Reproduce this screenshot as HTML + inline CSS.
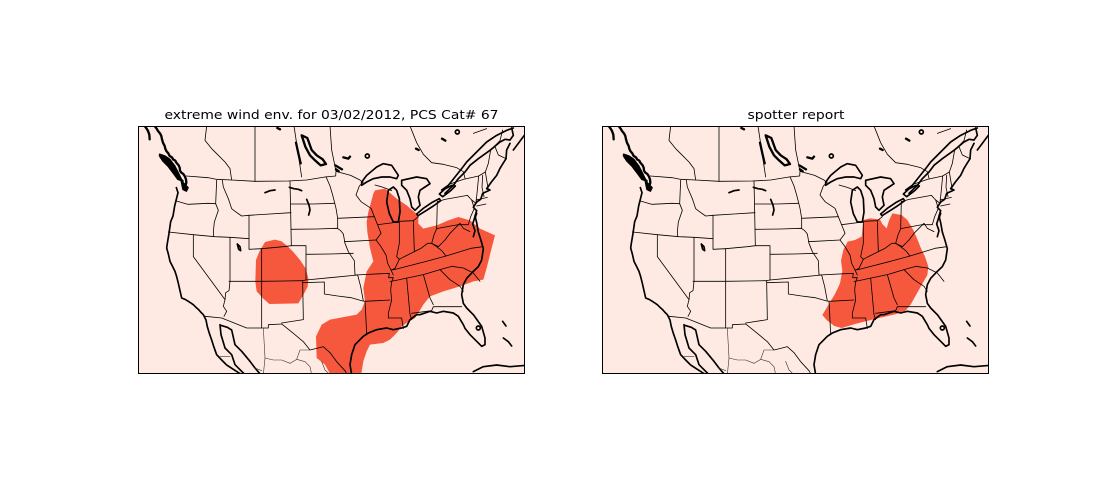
<!DOCTYPE html>
<html><head><meta charset="utf-8"><style>
html,body{margin:0;padding:0;background:#fff;}
svg{display:block;}
</style></head><body>
<svg width="1100" height="500" viewBox="0 0 1100 500" xmlns="http://www.w3.org/2000/svg">
<rect width="1100" height="500" fill="#fff"/>
<defs>
<clipPath id="c1"><rect x="138" y="126" width="387" height="248"/></clipPath>
<clipPath id="c2"><rect x="602" y="126" width="387" height="248"/></clipPath>
<g id="map" transform="translate(130,100) scale(0.333333)" fill="none" stroke="#000" stroke-linejoin="round" stroke-linecap="round">
 <g stroke-width="5">
  <path stroke-width="7" d="M44,78 L50,86 L54,93 L58,104 L59,118"/>
  <path stroke-width="7" d="M74,78 L80,86 L84,93 L90,100 L94,108 L96,118 L99,128 L104,138 L106,146 L109,153 L115,160 L119,168 L126,172 L129,178 L136,182 L139,188 L146,196 L149,203 L150,212 L154,218 L160,222 L164,228 L168,238 L169,248 L166,258 L164,268"/>
  <path fill="#000" d="M89,163 L104,168 L119,178 L134,198 L144,218 L154,238 L159,243 L144,238 L129,218 L114,198 L99,183 L89,168 Z"/>
  <path fill="#000" d="M154,243 L164,253 L174,263 L169,273 L159,268 Z"/>
  <path d="M139,263 L144,278 L139,298 L134,318 L129,348 L122,365 L117,400 L112,430 L110,444 L115,462 L120,484 L128,500 L135,514 L140,530 L145,550 L150,572 L155,594 L165,598 L175,604 L190,614 L198,622 L205,628 L212,636 L220,644 L228,660 L232,680 L238,700 L245,720 L252,742 L260,764 L275,780 L290,795 L310,808 L335,824"/>
  <path d="M270,674 L273,704 L285,744 L305,764 L315,794 L345,824"/>
  <path d="M272,676 L292,682 L305,690 L315,734 L335,754 L360,784 L375,804 L392,824"/>
  <path d="M1128,176 L1110,205 L1100,226 L1085,245 L1070,266 L1080,270 L1058,280 L1052,298 L1040,306 L1030,322 L1040,332 L1035,348 L1040,368 L1045,396 L1052,418 L1060,446 L1055,480 L1045,500 L1030,514 L1010,535 L1000,554 L995,584 L1000,610 L1010,624 L1030,644 L1045,665 L1055,679 L1065,714 L1065,734 L1055,739 L1040,724 L1020,704 L1005,685 L1000,674 L985,649 L970,639 L940,634 L920,639 L900,634 L870,644 L860,644 L840,659 L830,679 L815,684 L790,689 L770,684 L740,689 L715,699 L700,709 L675,734 L665,764 L660,794 L665,824"/>
  <path d="M1035,350 L1028,372 L1035,392 L1030,410 M1040,340 L1035,355"/>
  <path d="M935,270 L955,256 L975,231 L995,206 L1010,186 L1040,156 L1070,126 L1100,106 L1130,91 L1150,84"/>
  <path d="M945,280 L970,256 L985,236 L1005,216 L1020,196 L1045,176 L1080,151 L1110,126 L1125,118 L1140,120 L1150,106 L1145,84"/>
  <path d="M1140,130 L1130,150 L1128,176 M1150,150 L1165,130 L1180,110 L1188,100"/>
  <path d="M695,246 L710,226 L740,201 L760,191 L785,196 L795,211 L805,226 L800,236 L780,231 L755,231 L730,236 L710,246 L695,256 Z"/>
  <path d="M775,271 L770,306 L778,341 L790,366 L805,366 L810,336 L808,296 L800,271 L790,261 Z"/>
  <path d="M815,241 L860,231 L890,236 L900,251 L885,261 L870,271 L865,291 L870,316 L855,331 L845,321 L840,296 L830,271 L815,256 Z"/>
  <path d="M860,342 L880,325 L905,308 L928,296 L932,302 L910,318 L885,334 L864,347 Z"/>
  <path d="M928,282 L946,266 L966,256 L976,258 L962,272 L938,290 Z"/>
  <path stroke-width="7" d="M515,106 L532,114 L545,150 L560,166 L578,178 L588,192 L572,196 L556,182 L540,166 L526,140 Z"/>
  <path stroke-width="7" d="M498,128 L505,160 L512,190 M640,172 L655,176 L660,170 M936,116 L946,122 M858,146 L866,150 M618,208 L626,214 M442,84 L450,88 M616,196 L636,208"/>
  <circle cx="712" cy="168" r="6"/><circle cx="982" cy="96" r="6"/><circle cx="1045" cy="684" r="6"/>
  <path d="M405,278 L420,272 L435,270 M478,262 L492,266 L505,268 L515,272 M530,298 L537,315 L540,330 L536,345 M322,432 L330,440 L332,452 L326,448 Z"/>
  <path d="M1030,815 L1060,800 L1100,795 L1140,800 L1188,796 M1118,664 L1128,678 M1120,714 L1135,725 L1145,738"/>
 </g>
 <g stroke-width="2.4">
  <path d="M169,228 L234,233 L260,238 L305,240 L375,244 L475,243 L530,240 L585,231 L617,228 L618,214 L640,220 L662,226 L690,240 L697,246"/>
  <path d="M139,303 L174,313 L234,310 L257,311"/>
  <path d="M260,241 L257,311 L265,331 L253,366 L250,396 L251,410"/>
  <path d="M277,241 L280,261 L295,296 L305,326 L315,334 L335,348 L357,346"/>
  <path d="M357,346 L420,342 L483,338"/>
  <path d="M480,243 L482,338 L483,388 L484,437"/>
  <path d="M357,346 L357,448 L395,446 L395,684"/>
  <path d="M115,396 L190,404 L255,410 L300,412 L357,416"/>
  <path d="M190,404 L190,470 L285,599 L280,619 L290,634 L282,649"/>
  <path d="M300,412 L300,544 L297,572 L287,578 L285,599"/>
  <path d="M297,544 L395,544 L460,543 L518,542"/>
  <path d="M225,649 L275,654 L350,684 L395,684 L415,684 L415,674 L455,672"/>
  <path d="M455,672 L490,700 L520,725 L540,750 L560,745 L580,740 L600,758 L620,785 L645,812 L655,830"/>
  <path d="M395,446 L460,440 L484,437 L528,437 L528,540"/>
  <path d="M528,463 L600,462 L670,460"/>
  <path d="M518,542 L528,540 L600,533 L683,525"/>
  <path d="M518,544 L520,659 L455,669"/>
  <path d="M518,548 L583,546 L583,582 L623,588 L663,593 L698,603"/>
  <path d="M482,312 L550,312 L613,310"/>
  <path d="M483,388 L560,387 L622,385 L632,392 L640,402"/>
  <path d="M588,230 L600,258 L608,285 L618,325 L623,355 L623,385"/>
  <path d="M623,355 L733,350"/>
  <path d="M733,350 L723,325 L693,305 L678,285 L688,258 L700,246"/>
  <path d="M643,425 L738,420"/>
  <path d="M640,402 L645,430 L655,455 L665,470 L673,482 L675,525"/>
  <path d="M733,350 L743,375 L753,400 L738,420 L753,440 L768,465 L773,490 L783,510 L790,525"/>
  <path d="M675,525 L778,520 L776,533 L790,533"/>
  <path d="M683,525 L692,560 L700,603 L705,604 L707,640 L710,704"/>
  <path d="M705,604 L780,600"/>
  <path d="M790,533 L785,545 L782,570 L785,600 L775,640 L775,654 L815,654 L820,686"/>
  <path d="M788,510 L893,483 L948,468 L1023,445 L1058,440"/>
  <path d="M780,545 L880,524 L930,509"/>
  <path d="M830,534 L840,644 L845,659"/>
  <path d="M880,524 L900,594 L910,614"/>
  <path d="M845,640 L905,632 L910,620 L995,620"/>
  <path d="M930,509 L960,539 L990,559 L1000,574"/>
  <path d="M930,509 L965,499 L1000,504 L1030,519 L1050,544"/>
  <path d="M948,468 L935,452 L920,440 L905,430"/>
  <path d="M783,510 L795,505 L808,478 L823,470 L853,455 L873,445 L893,430 L905,430 L912,405 L920,386"/>
  <path d="M808,366 L808,430 L800,470 L808,478"/>
  <path d="M850,362 L853,455"/>
  <path d="M808,364 L850,362 L865,350"/>
  <path d="M743,374 L806,366"/>
  <path d="M922,305 L920,386"/>
  <path d="M922,305 L945,298 L1012,286 L1025,300 L1038,310 M920,386 L985,374 L1015,374"/>
  <path d="M1025,300 L1033,325 L1022,350 L1015,374"/>
  <path d="M905,430 L925,440 L945,420 L960,400 L975,385 L990,370 L1000,385 L1020,395"/>
  <path d="M1038,310 L1042,270 L1046,228 M1058,226 L1056,262 L1062,290 M1038,300 L1072,292 M1040,318 L1068,312 M1066,216 L1075,270"/>
  <path d="M960,252 L1000,238 L1046,228 L1066,216 L1075,190 L1082,150 L1095,140 L1105,165 L1128,176"/>
  <path d="M735,255 L760,262 L785,272"/>
  <path d="M230,78 L225,121 L245,146 L265,166 L285,186 L300,206 L305,240"/>
  <path d="M375,78 L375,244"/>
  <path d="M492,78 L515,231"/>
  <path d="M600,78 L605,150 L618,214"/>
  <path d="M840,78 L860,128 L880,163 L905,188 L940,193 L980,203 L1000,215 L1005,235"/>
  <path d="M1030,100 L1070,86 M1082,150 L1110,122 L1118,90"/>
 </g>
 <g stroke-width="1.8" stroke="#333">
  <path d="M400,684 L405,774 L400,824"/>
  <path d="M405,774 L430,780 L455,780 L480,790 L500,778 L525,785 L540,800 L545,824"/>
  <path d="M575,784 L585,810 L600,824"/>
  <path d="M270,769 L300,769 M375,804 L395,812 M500,778 L510,750 L540,750"/>
 </g>
</g>
</defs>

<g clip-path="url(#c1)">
 <rect x="138" y="126" width="387" height="248" fill="#feeae2"/>
 <g transform="translate(130,100) scale(0.333333)" fill="#f6583e" stroke="none">
  <path d="M405,426 L435,419 L455,424 L475,441 L490,456 L510,480 L527,505 L535,535 L533,560 L520,585 L505,610 L418,612 L400,596 L380,574 L376,545 L378,480 L388,455 Z"/>
  <path d="M735,271 L765,266 L800,296 L830,316 L865,346 L865,371 L880,386 L920,376 L955,361 L985,351 L1020,361 L1050,386 L1095,406 L1085,444 L1070,504 L1060,539 L1030,544 L990,559 L940,574 L900,589 L880,614 L865,639 L855,654 L830,669 L815,679 L800,699 L780,719 L760,729 L720,734 L710,754 L700,784 L695,814 L692,830 L605,830 L585,794 L560,774 L558,709 L575,674 L600,659 L680,644 L695,629 L705,604 L700,564 L710,514 L730,484 L720,444 L712,396 L710,366 L715,336 L730,281 Z"/>
 </g>
 <use href="#map"/>
</g>
<rect x="138.5" y="126.5" width="386" height="247" fill="none" stroke="#000" stroke-width="1"/>

<g clip-path="url(#c2)">
 <rect x="602" y="126" width="387" height="248" fill="#feeae2"/>
 <g transform="translate(595,100) scale(0.333333)" fill="#f6583e" stroke="none">
  <path d="M805,360 L825,355 L855,358 L862,372 L875,385 L882,362 L892,340 L920,345 L937,360 L955,390 L968,420 L978,445 L990,470 L1000,500 L997,525 L980,555 L963,585 L948,612 L932,632 L900,643 L860,652 L820,662 L780,672 L740,684 L718,678 L695,660 L682,645 L700,615 L720,582 L735,550 L742,512 L738,482 L745,450 L758,425 L780,420 L800,410 Z"/>
 </g>
 <use href="#map" x="464"/>
</g>
<rect x="602.5" y="126.5" width="386" height="247" fill="none" stroke="#000" stroke-width="1"/>

<text x="331.5" y="119" text-anchor="middle" font-family="DejaVu Sans, Liberation Sans, sans-serif" font-size="12" fill="#000" textLength="334" lengthAdjust="spacingAndGlyphs">extreme wind env. for 03/02/2012, PCS Cat# 67</text>
<text x="796" y="119" text-anchor="middle" font-family="DejaVu Sans, Liberation Sans, sans-serif" font-size="12" fill="#000" textLength="97" lengthAdjust="spacingAndGlyphs">spotter report</text>
</svg>
</body></html>
